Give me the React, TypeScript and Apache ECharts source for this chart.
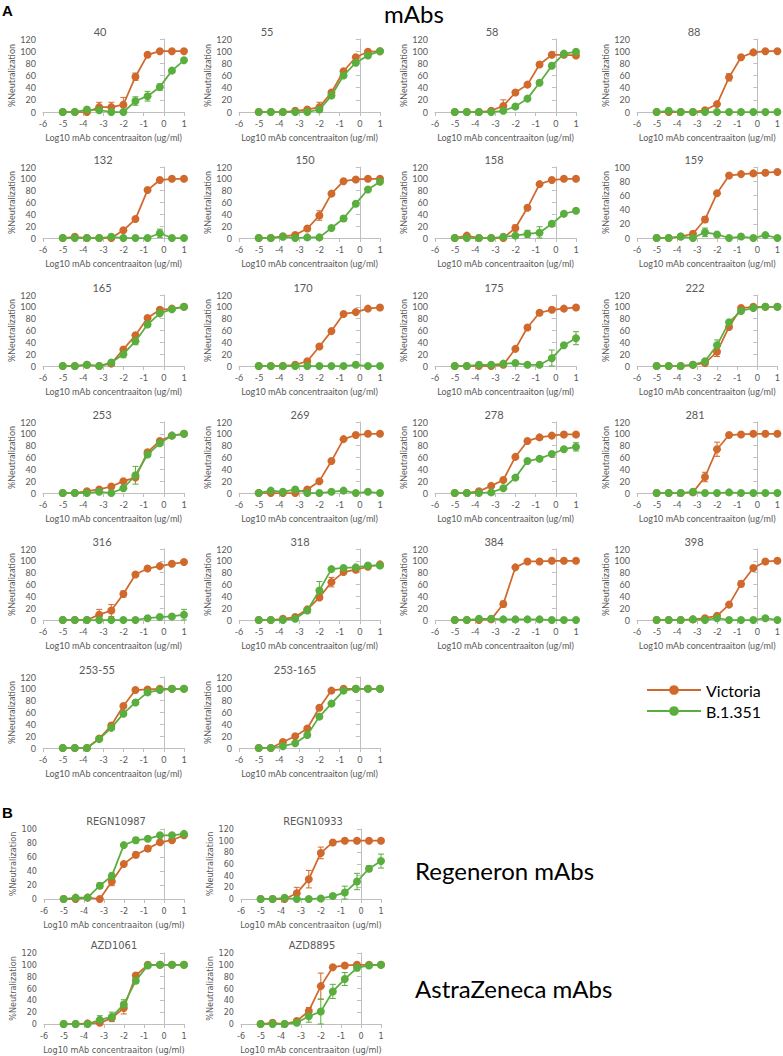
import React, { useEffect, useRef } from "react";
import * as echarts from "echarts";

// log10 concentrations (4-fold dilutions from 10 ug/ml)
const X = [-5.02, -4.42, -3.82, -3.21, -2.61, -2.01, -1.41, -0.81, -0.2, 0.4, 1.0];

const XNAME = "Log10 mAb concentraaiton (ug/ml)";
const YNAME = "%Neutralization";
const SERIES_NAMES = ["Victoria", "B.1.351"];

// ---- mAbs (panel A) ----
const V40 = [0, 0, 0, 8, 8, 12, 58, 94, 100, 100, 100];
const G40 = [0, 0, 4, 3, 0, 0, 18, 26, 41, 68, 85];
const V55 = [0, 0, 0, 2, 4, 8, 32, 67, 90, 99, 100];
const G55 = [0, 0, 0, 0, 0, 4, 27, 60, 81, 93, 100];
const V58 = [0, 0, 0, 2, 10, 32, 45, 78, 94, 94, 93];
const G58 = [0, 0, 0, 0, 2, 9, 22, 48, 76, 96, 99];
const V88 = [0, 0, 0, 0, 3, 13, 57, 90, 98, 100, 100];
const G88 = [0, 2, 0, 0, 0, 0, 0, 0, 0, 0, 0];
const V132 = [0, 2, 0, 0, 0, 13, 32, 81, 98, 100, 100];
const G132 = [0, 0, 0, 0, 2, 0, 0, 0, 8, 0, 0];
const V150 = [0, 0, 3, 5, 16, 38, 75, 96, 99, 100, 100];
const G150 = [0, 0, 2, 0, 1, 1, 17, 33, 58, 82, 95];
const V158 = [0, 4, 0, 0, 0, 17, 51, 91, 98, 100, 100];
const G158 = [0, 0, 0, 0, 2, 4, 7, 9, 24, 41, 46];
const V159 = [0, 0, 2, 6, 26, 63, 88, 90, 91, 92, 93];
const G159 = [0, 0, 2, 0, 8, 5, 0, 2, 0, 4, 0];
const V165 = [0, 0, 2, 0, 4, 28, 52, 81, 95, 97, 100];
const G165 = [0, 0, 2, 0, 6, 20, 42, 70, 89, 96, 100];
const V170 = [0, 0, 0, 2, 8, 33, 59, 88, 91, 97, 99];
const G170 = [0, 0, 0, 0, 0, 0, 0, 0, 2, 0, 0];
const V175 = [0, 0, 0, 0, 2, 29, 65, 90, 95, 97, 99];
const G175 = [0, 0, 2, 2, 4, 5, 2, 2, 13, 35, 47];
const V222 = [0, 0, 0, 2, 5, 24, 66, 98, 100, 100, 100];
const G222 = [0, 0, 0, 2, 8, 35, 74, 93, 98, 100, 100];
const V253 = [0, 0, 3, 6, 11, 20, 26, 69, 88, 97, 100];
const G253 = [0, 0, 0, 2, 0, 8, 30, 65, 84, 97, 100];
const V269 = [0, 0, 0, 0, 6, 20, 54, 91, 98, 100, 100];
const G269 = [0, 4, 2, 6, 0, 0, 2, 4, 0, 2, 0];
const V278 = [0, 0, 3, 12, 22, 61, 88, 94, 97, 99, 99];
const G278 = [0, 0, 0, 1, 8, 26, 54, 58, 66, 74, 78];
const V281 = [0, 0, 0, 1, 27, 74, 98, 99, 100, 100, 100];
const G281 = [0, 0, 0, 2, 0, 0, 1, 0, 0, 0, 0];
const V316 = [0, 0, 0, 9, 16, 44, 77, 87, 91, 95, 98];
const G316 = [0, 0, 0, 0, 0, 0, 0, 3, 5, 6, 9];
const V318 = [0, 0, 2, 5, 18, 38, 64, 81, 85, 90, 94];
const G318 = [0, 0, 0, 2, 16, 50, 86, 88, 89, 92, 92];
const V384 = [0, 0, 0, 1, 27, 89, 99, 99, 100, 100, 100];
const G384 = [0, 0, 2, 2, 1, 1, 1, 1, 0, 0, 0];
const V398 = [0, 0, 0, 1, 3, 7, 26, 61, 88, 99, 100];
const G398 = [0, 0, 0, 1, 0, 3, 0, 0, 0, 3, 0];
const V253_55 = [0, 0, 0, 16, 38, 71, 98, 99, 100, 100, 100];
const G253_55 = [0, 0, 0, 15, 34, 58, 77, 94, 98, 100, 100];
const V253_165 = [0, 0, 10, 20, 33, 68, 97, 100, 100, 100, 100];
const G253_165 = [0, 0, 3, 8, 22, 53, 75, 97, 100, 100, 100];

// ---- Regeneron / AstraZeneca (panel B) ----
const V_R10987 = [0, 0, 2, 0, 25, 50, 63, 72, 81, 84, 91];
const G_R10987 = [0, 2, 2, 19, 33, 77, 84, 86, 91, 91, 93];
const V_R10933 = [0, 0, 0, 10, 34, 79, 97, 100, 100, 100, 100];
const G_R10933 = [0, 0, 2, 0, 0, 1, 5, 11, 30, 52, 65];
const V_A1061 = [0, 0, 1, 2, 10, 27, 82, 100, 100, 100, 100];
const G_A1061 = [0, 0, 0, 7, 12, 33, 73, 99, 100, 100, 100];
const V_A8895 = [0, 2, 0, 5, 22, 64, 96, 99, 100, 100, 100];
const G_A8895 = [0, 0, 0, 2, 13, 21, 55, 76, 95, 99, 100];

// error bars: [point index, sd]
const E40V = [[3, 8], [4, 8], [5, 12], [6, 6]];
const E40G = [[6, 7], [7, 8], [8, 5], [9, 3]];
const E55V = [[5, 8]];
const E58V = [[4, 10]];
const E58G = [[7, 3]];
const E88V = [[5, 3], [6, 6]];
const E132G = [[8, 7]];
const E150V = [[5, 8]];
const E150G = [[7, 4]];
const E158V = [[5, 5]];
const E158G = [[6, 6], [7, 10]];
const E159V = [[4, 4]];
const E159G = [[4, 6]];
const E165G = [[5, 6], [6, 6]];
const E175G = [[8, 14], [10, 11]];
const E222V = [[5, 8]];
const E222G = [[5, 9]];
const E253G = [[6, 15]];
const E278G = [[5, 3], [10, 7]];
const E281V = [[4, 8], [5, 12]];
const E316V = [[3, 9], [4, 10], [5, 5]];
const E316G = [[10, 9]];
const E318V = [[6, 8]];
const E318G = [[4, 4], [5, 15]];
const E384V = [[4, 5]];
const E398V = [[5, 4], [7, 5]];
const E_R10987V = [[4, 6], [6, 4], [7, 4]];
const E_R10987G = [[3, 4], [4, 4], [6, 4]];
const E_R10933V = [[3, 10], [4, 15], [5, 10]];
const E_R10933G = [[6, 3], [7, 11], [8, 14], [9, 5], [10, 12]];
const E_A1061V = [[5, 10], [6, 4]];
const E_A1061G = [[3, 7], [4, 8], [5, 8], [6, 4]];
const E_A8895V = [[4, 6], [5, 22]];
const E_A8895G = [[4, 10], [5, 21], [6, 12], [7, 11], [8, 5]];

const NONE: number[][] = [];

const A_TITLES = ["40", "55", "58", "88", "132", "150", "158", "159", "165", "170", "175", "222", "253", "269", "278", "281", "316", "318", "384", "398", "253-55", "253-165"];
const A_V = [V40, V55, V58, V88, V132, V150, V158, V159, V165, V170, V175, V222, V253, V269, V278, V281, V316, V318, V384, V398, V253_55, V253_165];
const A_G = [G40, G55, G58, G88, G132, G150, G158, G159, G165, G170, G175, G222, G253, G269, G278, G281, G316, G318, G384, G398, G253_55, G253_165];
const A_EV = [E40V, E55V, E58V, E88V, NONE, E150V, E158V, E159V, NONE, NONE, NONE, E222V, NONE, NONE, NONE, E281V, E316V, E318V, E384V, E398V, NONE, NONE];
const A_EG = [E40G, NONE, E58G, NONE, E132G, E150G, E158G, E159G, E165G, NONE, E175G, E222G, E253G, NONE, E278G, NONE, E316G, E318G, NONE, NONE, NONE, NONE];
const A_YMAX = [120, 120, 120, 120, 120, 120, 120, 100, 120, 120, 120, 120, 120, 120, 120, 120, 120, 120, 120, 120, 120, 120];
const A_TITLE_X = [100, 267, 492, 694, 103, 305, 494, 694, 102, 303, 494, 695, 102, 300, 494, 695, 102, 300, 494, 694, 97, 295];

const B_TITLES = ["REGN10987", "REGN10933", "AZD1061", "AZD8895"];
const B_V = [V_R10987, V_R10933, V_A1061, V_A8895];
const B_G = [G_R10987, G_R10933, G_A1061, G_A8895];
const B_EV = [E_R10987V, E_R10933V, E_A1061V, E_A8895V];
const B_EG = [E_R10987G, E_R10933G, E_A1061G, E_A8895G];
const B_YMAX = [100, 120, 120, 120];
const B_TITLE_X = [116, 313, 114, 312];

// layout
const A_COL_LEFT = [43, 239, 435, 637];
const A_ROW_TOP = [39, 167, 295, 422, 549, 677];
const B_COL_LEFT = [44, 241];
const B_ROW_TOP = [829, 953];

const ORANGE = "#D0692B";
const GREEN = "#5AAE3E";
const AXIS_C = "#BFBFBF";
const LABEL_C = "#595959";
const FONT_A = "Lato, 'Open Sans', sans-serif";
const FONT_B = "'Liberation Sans Narrow', 'DejaVu Sans Condensed', Lato, sans-serif";

type Panel = {
  title: string; v: number[]; g: number[]; ev: number[][]; eg: number[][];
  left: number; top: number; w: number; h: number; ymax: number; tx: number; font: string;
};

function buildPanels(): Panel[] {
  const out: Panel[] = [];
  A_TITLES.forEach((t, i) => {
    const r = Math.floor(i / 4), c = i % 4;
    out.push({
      title: t, v: A_V[i], g: A_G[i], ev: A_EV[i], eg: A_EG[i],
      left: A_COL_LEFT[c], top: A_ROW_TOP[r], w: 141, h: r === 0 ? 73 : 71,
      ymax: A_YMAX[i], tx: A_TITLE_X[i], font: FONT_A,
    });
  });
  B_TITLES.forEach((t, i) => {
    const r = Math.floor(i / 2), c = i % 2;
    out.push({
      title: t, v: B_V[i], g: B_G[i], ev: B_EV[i], eg: B_EG[i],
      left: B_COL_LEFT[c], top: B_ROW_TOP[r], w: 140, h: r === 0 ? 70 : 71,
      ymax: B_YMAX[i], tx: B_TITLE_X[i], font: FONT_B,
    });
  });
  return out;
}

function errSeries(vals: number[], errs: number[][], color: string, idx: number) {
  return {
    type: "custom",
    xAxisIndex: idx,
    yAxisIndex: idx,
    z: 1,
    silent: true,
    encode: { x: 0, y: [1, 2] },
    data: errs.map(([k, sd]) => [X[k], Math.max(0, vals[k] - sd), vals[k] + sd]),
    renderItem: (params: any, api: any) => {
      const x = api.value(0);
      const top = api.coord([x, api.value(2)]);
      const bot = api.coord([x, api.value(1)]);
      const c = 3;
      const st = { stroke: color, lineWidth: 1 };
      return {
        type: "group",
        children: [
          { type: "line", shape: { x1: top[0], y1: top[1], x2: bot[0], y2: bot[1] }, style: st },
          { type: "line", shape: { x1: top[0] - c, y1: top[1], x2: top[0] + c, y2: top[1] }, style: st },
          { type: "line", shape: { x1: bot[0] - c, y1: bot[1], x2: bot[0] + c, y2: bot[1] }, style: st },
        ],
      };
    },
  };
}

function buildOption() {
  const panels = buildPanels();
  const grid: any[] = [];
  const xAxis: any[] = [];
  const yAxis: any[] = [];
  const series: any[] = [];
  const graphic: any[] = [];

  panels.forEach((p, i) => {
    grid.push({ left: p.left, top: p.top, width: p.w, height: p.h });
    xAxis.push({
      gridIndex: i, type: "value", min: -6, max: 1, interval: 1,
      axisLine: { show: true, onZero: false, lineStyle: { color: AXIS_C } },
      axisTick: { show: true, length: 4, lineStyle: { color: AXIS_C } },
      axisLabel: { fontSize: 9, color: LABEL_C, margin: 7, fontFamily: p.font },
      splitLine: { show: false },
      name: XNAME, nameLocation: "middle", nameGap: 21,
      nameTextStyle: { fontSize: 9, color: LABEL_C, fontFamily: p.font },
    });
    yAxis.push({
      gridIndex: i, type: "value", min: 0, max: p.ymax, interval: 20,
      axisLine: { show: true, lineStyle: { color: AXIS_C } },
      axisTick: { show: true, length: 4, lineStyle: { color: AXIS_C } },
      axisLabel: { fontSize: 9, color: LABEL_C, margin: 7, fontFamily: p.font },
      splitLine: { show: false },
      name: YNAME, nameLocation: "middle", nameGap: 27, nameRotate: 90,
      nameTextStyle: { fontSize: 9, color: LABEL_C, fontFamily: p.font },
    });
    series.push(errSeries(p.v, p.ev, ORANGE, i));
    series.push(errSeries(p.g, p.eg, GREEN, i));
    [p.v, p.g].forEach((vals, s) => {
      const color = s === 0 ? ORANGE : GREEN;
      series.push({
        type: "line", name: SERIES_NAMES[s], xAxisIndex: i, yAxisIndex: i, z: 2 + s,
        data: X.map((x, k) => [x, vals[k]]),
        symbol: "circle", symbolSize: 8, showSymbol: true,
        lineStyle: { color, width: 1.75 },
        itemStyle: { color },
        emphasis: { disabled: true },
      });
    });
    graphic.push({
      type: "text", x: p.tx, y: p.top - 8,
      style: { text: p.title, fontSize: 11, fill: LABEL_C, fontFamily: p.font, align: "center", verticalAlign: "middle", textAlign: "center", textVerticalAlign: "middle" },
    });
  });

  graphic.push(
    { type: "text", x: 2, y: 10, style: { text: "A", fontSize: 15, fontWeight: "bold", fill: "#000", fontFamily: "'Liberation Sans', Arial, sans-serif", verticalAlign: "middle", textVerticalAlign: "middle" } },
    { type: "text", x: 2, y: 812, style: { text: "B", fontSize: 15, fontWeight: "bold", fill: "#000", fontFamily: "'Liberation Sans', Arial, sans-serif", verticalAlign: "middle", textVerticalAlign: "middle" } },
    { type: "text", x: 384, y: 13, style: { text: "mAbs", fontSize: 24, fill: "#000", fontFamily: FONT_A, verticalAlign: "middle", textVerticalAlign: "middle" } },
    { type: "text", x: 415, y: 870, style: { text: "Regeneron mAbs", fontSize: 24, fill: "#000", fontFamily: FONT_A, verticalAlign: "middle", textVerticalAlign: "middle" } },
    { type: "text", x: 415, y: 988, style: { text: "AstraZeneca mAbs", fontSize: 24, fill: "#000", fontFamily: FONT_A, verticalAlign: "middle", textVerticalAlign: "middle" } },
  );

  return {
    animation: false,
    grid, xAxis, yAxis, series, graphic,
    legend: {
      data: SERIES_NAMES, orient: "vertical", left: 641, top: 677,
      itemWidth: 54, itemHeight: 12, itemGap: 5, selectedMode: false,
      textStyle: { fontSize: 16, color: "#000", fontFamily: FONT_A },
    },
  };
}

export default function App() {
  const ref = useRef<HTMLDivElement>(null);
  useEffect(() => {
    if (!ref.current) return;
    const chart = echarts.init(ref.current, undefined, { renderer: "svg" });
    chart.setOption(buildOption() as any);
    return () => chart.dispose();
  }, []);
  return (
    <div
      ref={ref}
      style={{ position: "absolute", left: 0, top: 0, width: 783, height: 1056, background: "#fff" }}
    />
  );
}
